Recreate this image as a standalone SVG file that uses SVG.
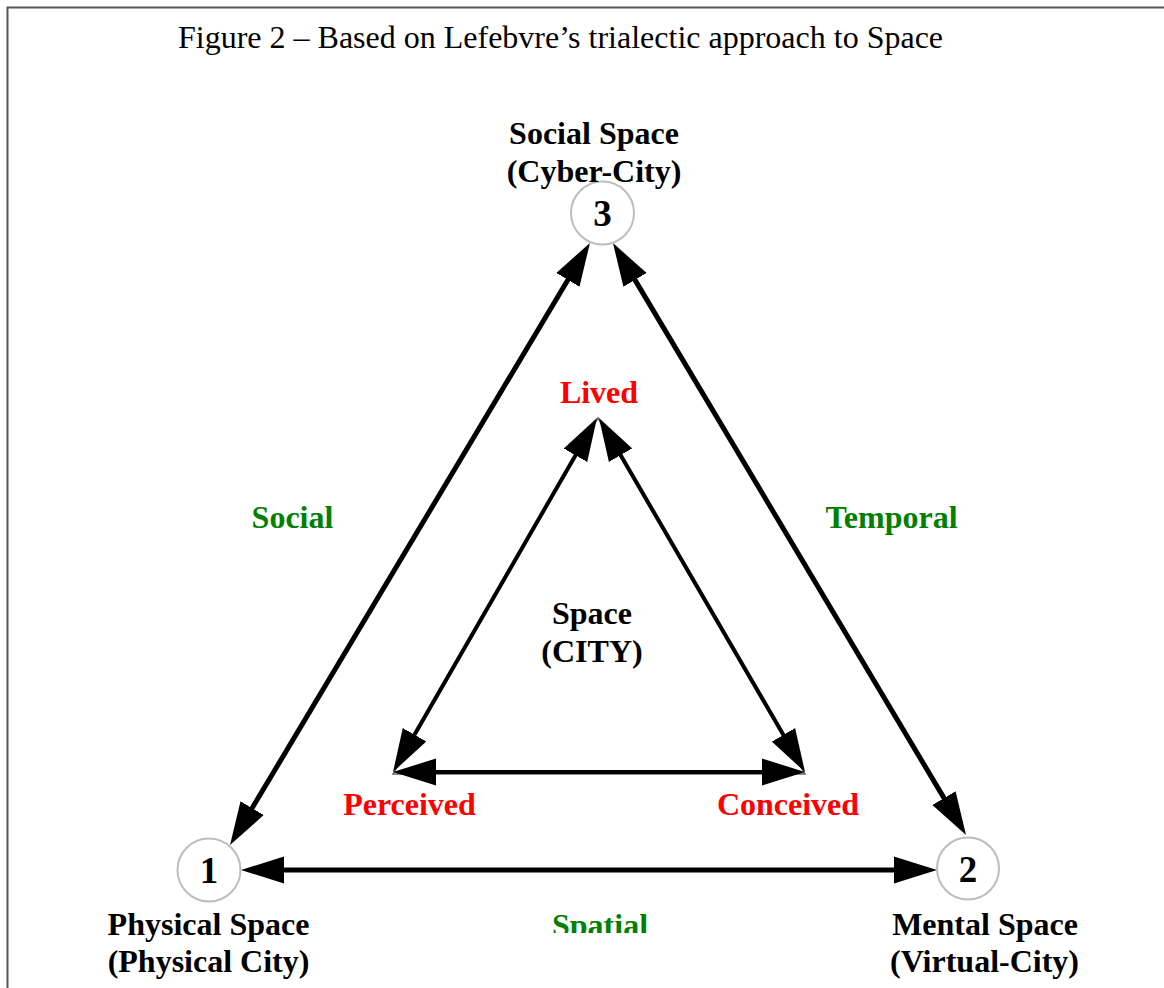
<svg xmlns="http://www.w3.org/2000/svg" width="1164" height="988" viewBox="0 0 1164 988">
  <style>
    .title { font-family: "Liberation Serif", "Times New Roman", serif; font-size: 32px; fill: #000; }
    .lbl { font-family: "Liberation Serif", "Times New Roman", serif; font-size: 32px; font-weight: bold; text-anchor: middle; }
    .blk { fill: #000; }
    .red { fill: #ff0000; }
    .grn { fill: #008000; }
    .num { font-family: "Liberation Serif", "Times New Roman", serif; font-size: 37px; font-weight: bold; text-anchor: middle; fill: #000; }
    .node { fill: #fff; stroke: #bdbdbd; stroke-width: 2; }
    .outer { stroke: #000; stroke-width: 5; fill: none; marker-start: url(#ah); marker-end: url(#ah); }
    .inner { stroke: #000; stroke-width: 4; fill: none; marker-start: url(#ah); marker-end: url(#ah); }
  </style>
  <defs>
    <marker id="ah" markerUnits="userSpaceOnUse" viewBox="0 -14 44 28" markerWidth="44" markerHeight="28" refX="1" refY="0" orient="auto-start-reverse">
      <path d="M0,-13.5 L43,0 L0,13.5 Z" fill="#000"/>
    </marker>
    <clipPath id="clipBottom">
      <rect x="0" y="0" width="1164" height="933"/>
    </clipPath>
  </defs>
  <rect x="0" y="0" width="1164" height="988" fill="#fff"/>
  <rect x="7.5" y="7.5" width="1200" height="1100" fill="none" stroke="#555" stroke-width="2"/>
  <text class="title" x="178" y="48">Figure 2 – Based on Lefebvre’s trialectic approach to Space</text>

  <g id="inner-outline">
    <polygon points="393,774 805,774 598,418" fill="none" stroke="#666" stroke-width="1.5"/>
  </g>

  <g id="connectors">
    <line class="outer" x1="251.6" y1="809" x2="568.4" y2="279"/>
    <line class="outer" x1="634.5" y1="279.1" x2="944.5" y2="798.9"/>
    <line class="outer" x1="283" y1="870" x2="895" y2="870"/>
    <line class="inner" x1="576" y1="454.4" x2="414" y2="735.6"/>
    <line class="inner" x1="620.1" y1="454.3" x2="783.9" y2="735.7"/>
    <line class="inner" x1="435" y1="772" x2="763" y2="772"/>
  </g>

  <g id="node3">
    <circle class="node" cx="602.5" cy="213" r="31.5"/>
    <text class="num" x="602.5" y="226">3</text>
    <text class="lbl blk" x="594" y="144">Social Space</text>
    <text class="lbl blk" x="594" y="182">(Cyber-City)</text>
  </g>
  <g id="node1">
    <circle class="node" cx="209" cy="870" r="31.5"/>
    <text class="num" x="209" y="883">1</text>
    <text class="lbl blk" x="208.5" y="935">Physical Space</text>
    <text class="lbl blk" x="208.5" y="972">(Physical City)</text>
  </g>
  <g id="node2">
    <circle class="node" cx="968" cy="868.5" r="31"/>
    <text class="num" x="968" y="882">2</text>
    <text class="lbl blk" x="985" y="935">Mental Space</text>
    <text class="lbl blk" x="984.5" y="972">(Virtual-City)</text>
  </g>
  <g id="center">
    <text class="lbl blk" x="592" y="624">Space</text>
    <text class="lbl blk" x="592" y="662">(CITY)</text>
  </g>
  <g id="lived"><text class="lbl red" x="599" y="403">Lived</text></g>
  <g id="perceived"><text class="lbl red" x="409.5" y="815">Perceived</text></g>
  <g id="conceived"><text class="lbl red" x="788" y="815">Conceived</text></g>
  <g id="social"><text class="lbl grn" x="292.5" y="528">Social</text></g>
  <g id="temporal"><text class="lbl grn" x="891.5" y="528">Temporal</text></g>
  <g id="spatial" clip-path="url(#clipBottom)"><text class="lbl grn" x="600" y="936">Spatial</text></g>
</svg>
